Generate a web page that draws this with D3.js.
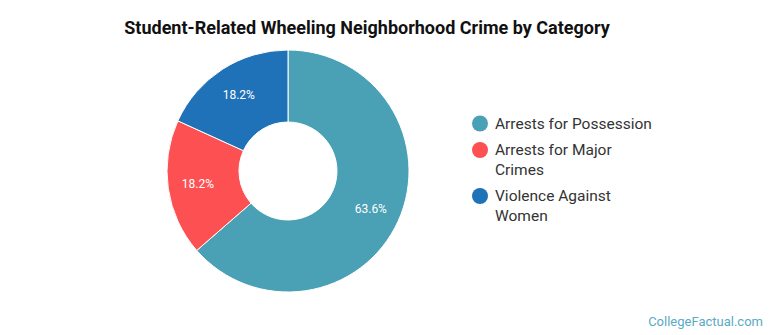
<!DOCTYPE html>
<html><head><meta charset="utf-8">
<script src="https://cdn.jsdelivr.net/npm/d3@7"></script>
<style>body{margin:0;background:#fff;font-family:Roboto,"Open Sans",sans-serif}</style>
</head><body><svg id="c" width="770" height="335"></svg>
<script>
const categories = ["Arrests for Possession", "Arrests for Major Crimes", "Violence Against Women"];
const legendLines = [["Arrests for Possession"], ["Arrests for Major", "Crimes"], ["Violence Against", "Women"]];
const values = [63.6, 18.2, 18.2];
const colors = ["#4aa0b4", "#fd5053", "#1f71b8"];

const svg = d3.select("#c");
svg.append("rect").attr("width",770).attr("height",335).attr("fill","#fff");
svg.append("text").attr("x",367).attr("y",34).attr("text-anchor","middle")
  .attr("font-family","Roboto, sans-serif").attr("font-weight","bold").attr("font-size",18).attr("fill","#111")
  .text("Student-Related Wheeling Neighborhood Crime by Category");

const cx = 288, cy = 171, R = 121, r = 49;
const pie = d3.pie().sort(null).value(d=>d)(values);
const arc = d3.arc().innerRadius(r).outerRadius(R);
const labelArc = d3.arc().innerRadius(91).outerRadius(91);
const g = svg.append("g").attr("transform",`translate(${cx},${cy})`);
g.selectAll("path").data(pie).join("path").attr("d",arc)
  .attr("fill",(d,i)=>colors[i]).attr("stroke","#fff").attr("stroke-width",1);
g.selectAll("text").data(pie).join("text")
  .attr("transform",d=>`translate(${labelArc.centroid(d)})`)
  .attr("text-anchor","middle").attr("dy","0.35em")
  .attr("font-size",12).attr("fill","#fff")
  .text(d=>d.data.toFixed(1)+"%");

const ly = [123.5, 150, 196];
const lg = svg.append("g");
legendLines.forEach((lines,i)=>{
  lg.append("circle").attr("cx",480).attr("cy",ly[i]).attr("r",8).attr("fill",colors[i]);
  const t = lg.append("text").attr("x",495).attr("y",ly[i]).attr("dy","0.35em")
    .attr("font-size",15.5).attr("fill","#333");
  lines.forEach((s,j)=>t.append("tspan").attr("x",495).attr("dy", j===0?"0.35em":"20").text(s));
});

svg.append("text").attr("x",763).attr("y",326).attr("text-anchor","end")
  .attr("font-size",13).attr("fill","#5aaac4").text("CollegeFactual.com");
</script></body></html>
